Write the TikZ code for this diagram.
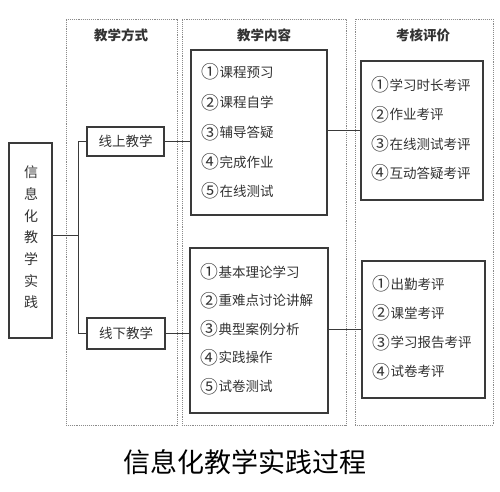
\documentclass[tikz,border=0pt]{standalone}
\usepackage{fontspec}
\newfontfamily\cjk{Noto Sans CJK SC}
\definecolor{ink}{HTML}{333333}
\definecolor{frame}{HTML}{3A3A3A}
\definecolor{dotc}{HTML}{8A8A8A}
\newcommand{\cnum}[1]{\raisebox{-0.12em}{\scalebox{1.32}{#1}}\hspace{0.05em}}
\begin{document}
\begin{tikzpicture}[x=1pt,y=-1pt,
  col/.style={draw=dotc,densely dotted,line width=0.9pt,minimum width=#1,minimum height=406pt,inner sep=0pt},
  box/.style={draw=frame,line width=1.3pt,inner sep=0pt,fill=white},
  item/.style={anchor=west,inner sep=0pt,text=ink,font=\cjk\fontsize{13.5}{14}\selectfont},
  head/.style={inner sep=0pt,text=ink,font=\cjk\bfseries\fontsize{13.5}{14}\selectfont},
  conn/.style={draw=frame,line width=1pt}]
\useasboundingbox (0,0) rectangle (500,491);
\fill[white] (0,0) rectangle (500,491);
% columns
\node[col=111pt] (colA) at (121.5,222) {};
\node[col=164pt] (colB) at (264,222) {};
\node[col=138pt] (colC) at (424,222) {};
\node[head] (hA) at (121,35) {教学方式};
\node[head] (hB) at (264,35) {教学内容};
\node[head] (hC) at (423,35) {考核评价};
% main box
\node[box,minimum width=43pt,minimum height=195pt] (main) at (30.5,240.5) {};
\node[inner sep=0pt,text=ink,font=\cjk\fontsize{14}{21.7}\selectfont,align=center] (mainT) at (31,237.5) {信\\息\\化\\教\\学\\实\\践};
% mode boxes
\node[box,minimum width=77pt,minimum height=29pt,text=ink,font=\cjk\fontsize{13.5}{14}\selectfont] (on) at (125.5,141.5) {线上教学};
\node[box,minimum width=78pt,minimum height=31pt,text=ink,font=\cjk\fontsize{13.5}{14}\selectfont] (off) at (126,333.5) {线下教学};
% content boxes
\node[box,minimum width=136pt,minimum height=165pt] (c1) at (259,132.5) {};
\node[box,minimum width=138pt,minimum height=165pt] (c2) at (259,330.5) {};
% eval boxes
\node[box,minimum width=122pt,minimum height=139pt] (e1) at (422,130.5) {};
\node[box,minimum width=123pt,minimum height=137pt] (e2) at (423.5,329.5) {};
% content items
\node[item] (c1a) at (201,72) {\cnum{①}课程预习};
\node[item] (c1b) at (201,102.5) {\cnum{②}课程自学};
\node[item] (c1c) at (201,132.5) {\cnum{③}辅导答疑};
\node[item] (c1d) at (201,162) {\cnum{④}完成作业};
\node[item] (c1e) at (201,191) {\cnum{⑤}在线测试};
\node[item] (c2a) at (200,272) {\cnum{①}基本理论学习};
\node[item] (c2b) at (200,300.5) {\cnum{②}重难点讨论讲解};
\node[item] (c2c) at (200,329) {\cnum{③}典型案例分析};
\node[item] (c2d) at (200,357.5) {\cnum{④}实践操作};
\node[item] (c2e) at (200,386.5) {\cnum{⑤}试卷测试};
\node[item] (e1a) at (371,85) {\cnum{①}学习时长考评};
\node[item] (e1b) at (371,114.5) {\cnum{②}作业考评};
\node[item] (e1c) at (371,144) {\cnum{③}在线测试考评};
\node[item] (e1d) at (371,173) {\cnum{④}互动答疑考评};
\node[item] (e2a) at (372,284) {\cnum{①}出勤考评};
\node[item] (e2b) at (372,313) {\cnum{②}课堂考评};
\node[item] (e2c) at (372,342.5) {\cnum{③}学习报告考评};
\node[item] (e2d) at (372,371.5) {\cnum{④}试卷考评};
% connectors
\coordinate (j) at (78,235);
\draw[conn] (main.east |- j) -- (j);
\draw[conn] (on.west) -- (on.west -| j) -- (off.west -| j) -- (off.west);
\draw[conn] (on.east) -- (on.east -| c1.west);
\draw[conn] (off.east) -- (off.east -| c2.west);
\draw[conn] (c1.east |- e1.west) -- (e1.west);
\draw[conn] (c2.east |- e2.west) -- (e2.west);
% title
\node[inner sep=0pt,text=black,font=\cjk\fontsize{27}{28}\selectfont] (title) at (245,462) {信息化教学实践过程};
\end{tikzpicture}
\end{document}
